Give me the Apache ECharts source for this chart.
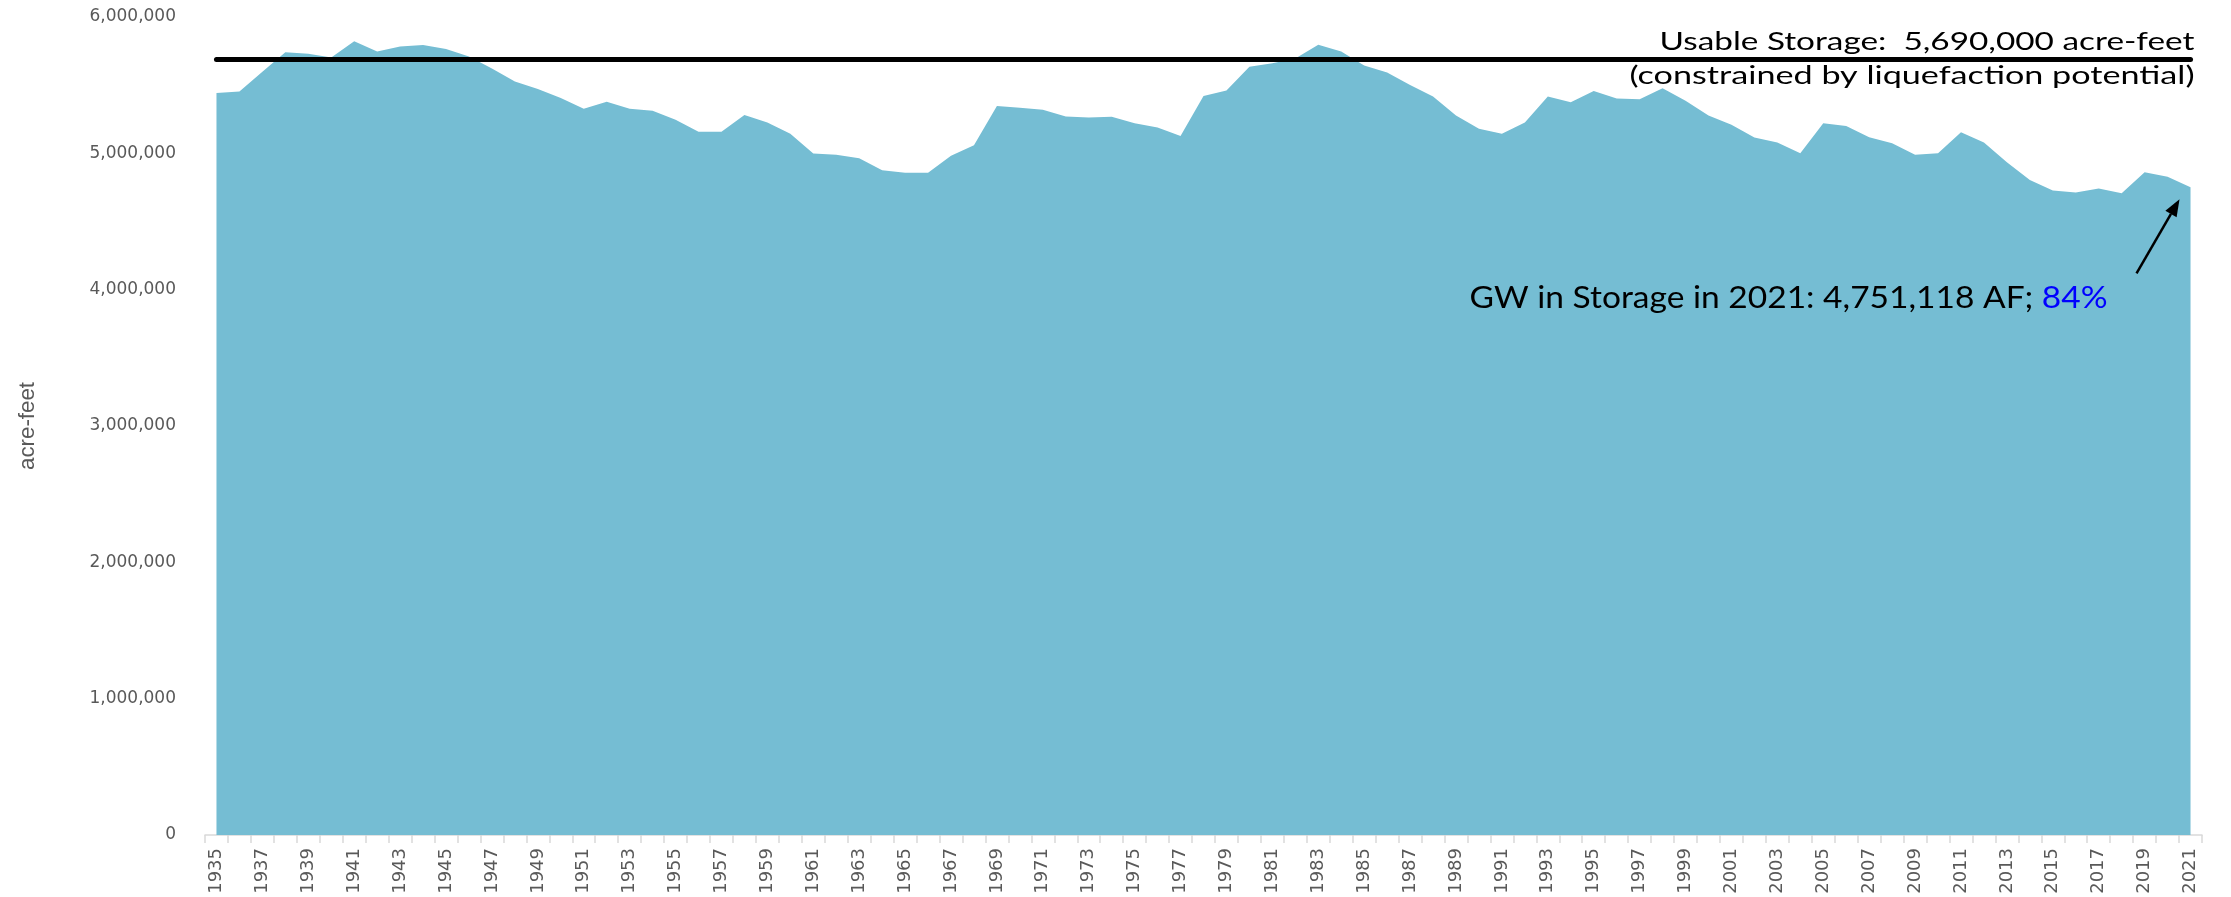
<!DOCTYPE html>
<html>
<head>
<meta charset="utf-8">
<script src="https://cdn.jsdelivr.net/npm/echarts@6/dist/echarts.min.js"></script>
<style>
html,body{margin:0;padding:0;background:#fff;}
#chart{width:2231px;height:897px;}
</style>
</head>
<body>
<div id="chart"></div>
<script>
const years = [];
for (let y = 1935; y <= 2021; y++) years.push(String(y));

const storage = [
  5442000, 5454000, 5598000, 5742000, 5730000, 5703000, 5823000, 5747000, 5784000, 5794000,
  5765000, 5710000, 5623000, 5527000, 5471000, 5405000, 5327000, 5378000, 5327000, 5312000,
  5246000, 5158000, 5158000, 5282000, 5227000, 5143000, 4998000, 4989000, 4964000, 4876000,
  4857000, 4857000, 4982000, 5060000, 5348000, 5334000, 5319000, 5270000, 5263000, 5268000,
  5221000, 5189000, 5128000, 5420000, 5461000, 5636000, 5661000, 5695000, 5796000, 5747000,
  5644000, 5592000, 5502000, 5416000, 5277000, 5180000, 5143000, 5227000, 5416000, 5374000,
  5458000, 5402000, 5397000, 5477000, 5386000, 5277000, 5209000, 5116000, 5080000, 5001000,
  5220000, 5201000, 5118000, 5074000, 4989000, 5001000, 5154000, 5080000, 4935000, 4805000,
  4727000, 4712000, 4742000, 4707000, 4861000, 4829000, 4751118
];

const usableStorage = 5690000;
const yTicks = [0, 1000000, 2000000, 3000000, 4000000, 5000000, 6000000];
const usableText1 = 'Usable Storage:  5,690,000 acre-feet';
const usableText2 = '(constrained by liquefaction potential)';
const gwText = 'GW in Storage in 2021: 4,751,118 AF; ';
const gwPct = '84%';
const yName = 'acre-feet';

const chart = echarts.init(document.getElementById('chart'));
const fmt = v => v.toLocaleString('en-US');
const AREA = '#75BDD3';

chart.setOption({
  animation: false,
  grid: { left: 205, right: 29, top: 17, bottom: 62, containLabel: false },
  xAxis: {
    type: 'category',
    data: years,
    boundaryGap: true,
    axisLine: { show: true, lineStyle: { color: '#D9D9D9', width: 1.5 } },
    axisTick: { show: true, interval: 0, length: 8, lineStyle: { color: '#D9D9D9', width: 1.5 } },
    axisLabel: {
      interval: 1, rotate: 90, margin: 13,
      fontFamily: 'DejaVu Sans', fontSize: 18, color: '#595959'
    }
  },
  yAxis: {
    type: 'value',
    min: yTicks[0], max: yTicks[yTicks.length - 1], interval: 1000000,
    axisLine: { show: false }, axisTick: { show: false },
    splitLine: { show: false },
    axisLabel: {
      margin: 29, fontFamily: 'DejaVu Sans', fontSize: 17, color: '#595959',
      formatter: v => fmt(v)
    }
  },
  series: [{
    type: 'line',
    data: storage,
    showSymbol: false,
    symbol: 'none',
    z: 2,
    lineStyle: { width: 0, color: AREA },
    itemStyle: { color: AREA },
    areaStyle: { color: AREA, opacity: 1 },
    markLine: {
      silent: true,
      symbol: ['none', 'none'],
      label: { show: false },
      lineStyle: { color: '#000', width: 5, type: 'solid', cap: 'round' },
      data: [[
        { coord: [years[0], usableStorage] },
        { coord: [years[years.length - 1], usableStorage] }
      ]]
    }
  }]
});

const mctx = document.createElement('canvas').getContext('2d');
function fitScale(text, font, target) {
  mctx.font = font;
  return target / mctx.measureText(text).width;
}

function place() {
  const last = chart.convertToPixel({ seriesIndex: 0 }, [years.length - 1, storage[storage.length - 1]]);
  const lineY = chart.convertToPixel({ yAxisIndex: 0 }, usableStorage);
  const tip = [last[0] - 11, last[1] + 12];
  const tail = [last[0] - 54, last[1] + 86];
  const ang = Math.atan2(tip[1] - tail[1], tip[0] - tail[0]);
  const L = 17, W = 6.5;
  const bx = tip[0] - L * Math.cos(ang), by = tip[1] - L * Math.sin(ang);
  const px = -Math.sin(ang) * W, py = Math.cos(ang) * W;

  const topFont = '25px Lato';
  const s1 = fitScale(usableText1, topFont, 535);
  const s2 = fitScale(usableText2, topFont, 565);
  const gwFont = '30px Lato';
  const s3 = fitScale(gwText + gwPct, gwFont, 638);
  const nameFont = '22px "Liberation Sans"';
  const s4 = fitScale(yName, nameFont, 88);

  chart.setOption({
    graphic: [
      {
        type: 'text', z: 100, x: last[0] + 4, y: lineY - 17, scaleX: s1,
        style: { text: usableText1, fontFamily: 'Lato', fontSize: 25, fill: '#000',
          align: 'right', verticalAlign: 'middle', textAlign: 'right', textVerticalAlign: 'middle' }
      },
      {
        type: 'text', z: 100, x: last[0] + 4, y: lineY + 17, scaleX: s2,
        style: { text: usableText2, fontFamily: 'Lato', fontSize: 25, fill: '#000',
          align: 'right', verticalAlign: 'middle', textAlign: 'right', textVerticalAlign: 'middle' }
      },
      {
        type: 'text', z: 100, x: last[0] - 83, y: last[1] + 111, scaleX: s3,
        style: {
          text: '{a|' + gwText + '}{b|' + gwPct + '}',
          align: 'right', verticalAlign: 'middle', textAlign: 'right', textVerticalAlign: 'middle',
          rich: {
            a: { fontFamily: 'Lato', fontSize: 30, fill: '#000', color: '#000' },
            b: { fontFamily: 'Lato', fontSize: 30, fill: '#0000FF', color: '#0000FF' }
          }
        }
      },
      {
        type: 'line', z: 100,
        shape: { x1: tail[0], y1: tail[1], x2: bx, y2: by },
        style: { stroke: '#000', lineWidth: 2.5 }
      },
      {
        type: 'polygon', z: 100,
        shape: { points: [tip, [bx + px, by + py], [bx - px, by - py]] },
        style: { fill: '#000' }
      },
      {
        type: 'text', z: 100, x: 28, y: chart.convertToPixel({ yAxisIndex: 0 }, yTicks[3]),
        rotation: Math.PI / 2, scaleX: s4,
        style: { text: yName, fontFamily: 'Liberation Sans', fontSize: 22,
          fill: '#595959', align: 'center', verticalAlign: 'middle',
          textAlign: 'center', textVerticalAlign: 'middle' }
      }
    ]
  });
}
place();
</script>
</body>
</html>
